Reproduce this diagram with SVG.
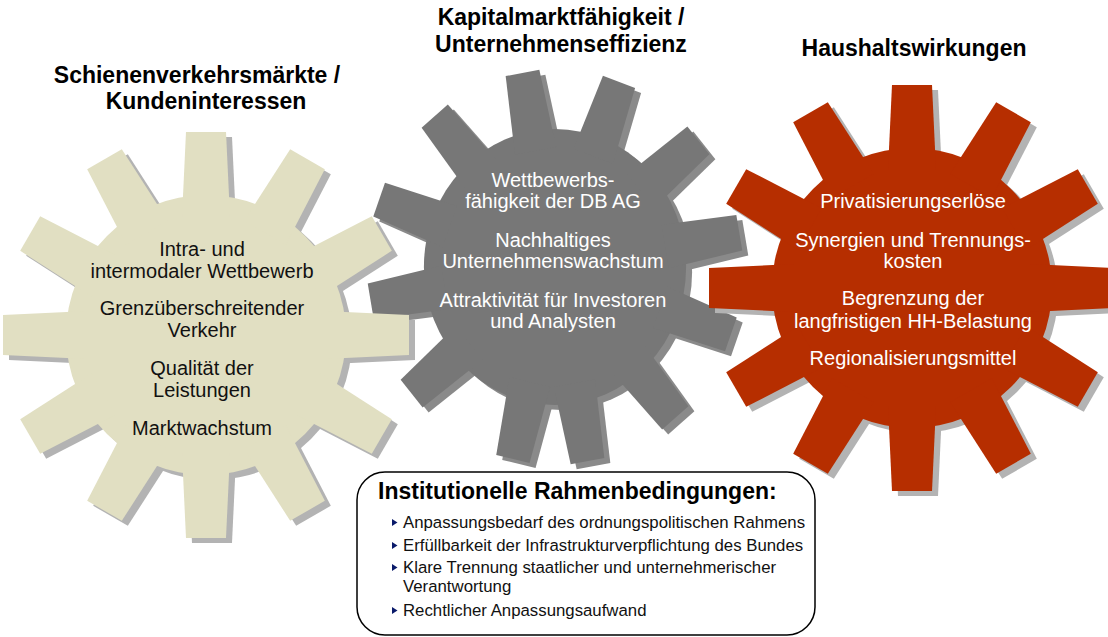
<svg xmlns="http://www.w3.org/2000/svg" xmlns:xlink="http://www.w3.org/1999/xlink" width="1108" height="637" viewBox="0 0 1108 637">
<style>
.hd{font-family:"Liberation Sans",Arial,sans-serif;font-weight:bold;font-size:23px;fill:#000;text-anchor:middle}
.gt{font-family:"Liberation Sans",Arial,sans-serif;font-size:20px;text-anchor:middle}
.dark{fill:#111}
.light{fill:#fff}
.bt{font-family:"Liberation Sans",Arial,sans-serif;font-size:16.8px;fill:#111}
.ttl{font-family:"Liberation Sans",Arial,sans-serif;font-weight:bold;font-size:23px;fill:#000}
.shadow{fill:#b3b3b3}
.bul{fill:#0a1a6a}
</style>
<defs>
<path id="toothA" d="M-24,-118 L-20,-203 L20,-203 L24,-118 Z"/>
<g id="gearA">
<circle r="140"/>
<use xlink:href="#toothA"/>
<use xlink:href="#toothA" transform="rotate(30)"/>
<use xlink:href="#toothA" transform="rotate(60)"/>
<use xlink:href="#toothA" transform="rotate(90)"/>
<use xlink:href="#toothA" transform="rotate(120)"/>
<use xlink:href="#toothA" transform="rotate(150)"/>
<use xlink:href="#toothA" transform="rotate(180)"/>
<use xlink:href="#toothA" transform="rotate(210)"/>
<use xlink:href="#toothA" transform="rotate(240)"/>
<use xlink:href="#toothA" transform="rotate(270)"/>
<use xlink:href="#toothA" transform="rotate(300)"/>
<use xlink:href="#toothA" transform="rotate(330)"/>
</g>
<path id="toothC" d="M-22,-118 L-18,-197 L18,-197 L22,-118 Z"/>
<g id="gearC">
<circle r="138"/>
<use xlink:href="#toothC" transform="rotate(-10)"/>
<use xlink:href="#toothC" transform="rotate(20)"/>
<use xlink:href="#toothC" transform="rotate(50)"/>
<use xlink:href="#toothC" transform="rotate(80)"/>
<use xlink:href="#toothC" transform="rotate(110)"/>
<use xlink:href="#toothC" transform="rotate(140)"/>
<use xlink:href="#toothC" transform="rotate(170)"/>
<use xlink:href="#toothC" transform="rotate(193)"/>
<use xlink:href="#toothC" transform="rotate(230)"/>
<use xlink:href="#toothC" transform="rotate(260)"/>
<use xlink:href="#toothC" transform="rotate(290)"/>
<use xlink:href="#toothC" transform="rotate(320)"/>
</g>
</defs>

<g id="gear-kapitalmarkt">
<use xlink:href="#gearC" fill="#8a8a8a" transform="translate(561,272) scale(0.95,1)"/>
<use xlink:href="#gearC" fill="#777777" transform="translate(555,267) scale(0.95,1)"/>
<text class="hd" x="561" y="25">Kapitalmarktfähigkeit /</text>
<text class="hd" x="561" y="52">Unternehmenseffizienz</text>
<text class="gt light" x="553" y="187">Wettbewerbs-</text>
<text class="gt light" x="553" y="208">fähigkeit der DB AG</text>
<text class="gt light" x="553" y="247">Nachhaltiges</text>
<text class="gt light" x="553" y="268">Unternehmenswachstum</text>
<text class="gt light" x="553" y="307">Attraktivität für Investoren</text>
<text class="gt light" x="553" y="328">und Analysten</text>
</g>

<g id="gear-schienen">
<use xlink:href="#gearA" class="shadow" transform="translate(212,340)"/>
<use xlink:href="#gearA" fill="#e1dfc2" transform="translate(206,335)"/>
<text class="hd" x="197" y="83">Schienenverkehrsmärkte /</text>
<text class="hd" x="206" y="109">Kundeninteressen</text>
<text class="gt dark" x="202" y="256">Intra- und</text>
<text class="gt dark" x="202" y="278">intermodaler Wettbewerb</text>
<text class="gt dark" x="202" y="315">Grenzüberschreitender</text>
<text class="gt dark" x="202" y="337">Verkehr</text>
<text class="gt dark" x="202" y="375">Qualität der</text>
<text class="gt dark" x="202" y="397">Leistungen</text>
<text class="gt dark" x="202" y="435">Marktwachstum</text>
</g>

<g id="gear-haushalt">
<use xlink:href="#gearA" class="shadow" transform="translate(918,293)"/>
<use xlink:href="#gearA" fill="#b62e00" transform="translate(912,288)"/>
<text class="hd" x="914" y="56">Haushaltswirkungen</text>
<text class="gt light" x="913" y="208">Privatisierungserlöse</text>
<text class="gt light" x="913" y="247">Synergien und Trennungs-</text>
<text class="gt light" x="913" y="268">kosten</text>
<text class="gt light" x="913" y="305">Begrenzung der</text>
<text class="gt light" x="913" y="328">langfristigen HH-Belastung</text>
<text class="gt light" x="913" y="365">Regionalisierungsmittel</text>
</g>

<g id="box-rahmen">
<rect x="357" y="472" width="458" height="163" rx="28" ry="28" fill="#fff" stroke="#000" stroke-width="1.5"/>
<text class="ttl" x="378" y="499">Institutionelle Rahmenbedingungen:</text>
<polygon class="bul" points="392,519 397.5,522.5 392,526"/>
<text class="bt" x="403" y="528">Anpassungsbedarf des ordnungspolitischen Rahmens</text>
<polygon class="bul" points="392,542 397.5,545.5 392,549"/>
<text class="bt" x="403" y="551">Erfüllbarkeit der Infrastrukturverpflichtung des Bundes</text>
<polygon class="bul" points="392,564 397.5,567.5 392,571"/>
<text class="bt" x="403" y="573">Klare Trennung staatlicher und unternehmerischer</text>
<text class="bt" x="403" y="592">Verantwortung</text>
<polygon class="bul" points="392,607 397.5,610.5 392,614"/>
<text class="bt" x="403" y="616">Rechtlicher Anpassungsaufwand</text>
</g>

<g id="connectors"></g>
</svg>
